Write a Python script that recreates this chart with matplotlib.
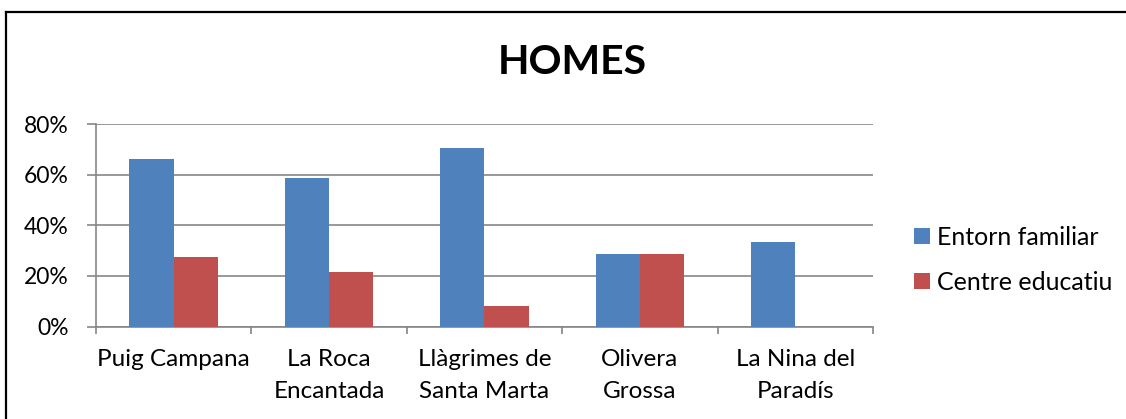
import matplotlib.pyplot as plt
import numpy as np
from matplotlib.lines import Line2D
from matplotlib.ticker import PercentFormatter

categories = [
    "Puig Campana",
    "La Roca\nEncantada",
    "Llàgrimes de\nSanta Marta",
    "Olivera\nGrossa",
    "La Nina del\nParadís",
]
entorn_familiar = [0.66, 0.585, 0.705, 0.285, 0.333]
centre_educatiu = [0.275, 0.215, 0.08, 0.285, 0.0]
series_names = ["Entorn familiar", "Centre educatiu"]

BLUE = "#4F81BD"
RED = "#C0504D"
GRID = "#868686"

plt.rcParams["font.family"] = ["Lato", "DejaVu Sans"]

W, H = 1126, 419
fig = plt.figure(figsize=(W / 100, H / 100), dpi=100)
ax = fig.add_axes([96 / W, 1 - 326.5 / H, 777 / W, 202.5 / H])

x = np.arange(len(categories))
w = 1 / 3.5
ax.bar(x - w / 2, entorn_familiar, w, color=BLUE, label=series_names[0], zorder=3)
ax.bar(x + w / 2, centre_educatiu, w, color=RED, label=series_names[1], zorder=3)

ax.set_xlim(-0.5, len(categories) - 0.5)
ax.set_ylim(0, 0.8)
ax.set_yticks(np.arange(0, 0.81, 0.2))
ax.yaxis.set_major_formatter(PercentFormatter(1.0, decimals=0))
ax.grid(axis="y", color=GRID, linewidth=1.2, zorder=0)

ax.set_xticks(x)
ax.set_xticklabels(categories, linespacing=1.65)
ax.set_xticks(np.arange(-0.5, len(categories), 1), minor=True)
ax.tick_params(axis="x", which="major", length=0, pad=16, labelsize=17.5)
ax.tick_params(axis="x", which="minor", length=5, width=1.2, color=GRID)
ax.tick_params(axis="y", length=6.5, width=1.2, color=GRID, pad=13, labelsize=16.5)

for side in ("top", "right"):
    ax.spines[side].set_visible(False)
for side in ("left", "bottom"):
    ax.spines[side].set_color(GRID)
    ax.spines[side].set_linewidth(1.2)

fig.text(572.5 / W, 1 - 62 / H, "HOMES", fontsize=29.5, fontweight="bold",
         ha="center", va="center")

fig.legend(loc="center left", bbox_to_anchor=(914 / W, 1 - 260 / H),
           frameon=False, fontsize=18, handlelength=0.64, handleheight=0.64,
           handletextpad=0.28, labelspacing=0.88, borderpad=0, borderaxespad=0)

# chart border (right and bottom edges fall outside the picture)
fig.add_artist(Line2D([6 / W, 1.01], [1 - 12 / H, 1 - 12 / H],
                      transform=fig.transFigure, color="black", linewidth=1.6))
fig.add_artist(Line2D([6 / W, 6 / W], [-0.01, 1 - 12 / H],
                      transform=fig.transFigure, color="black", linewidth=1.6))

fig.savefig("out.png", dpi=100)
